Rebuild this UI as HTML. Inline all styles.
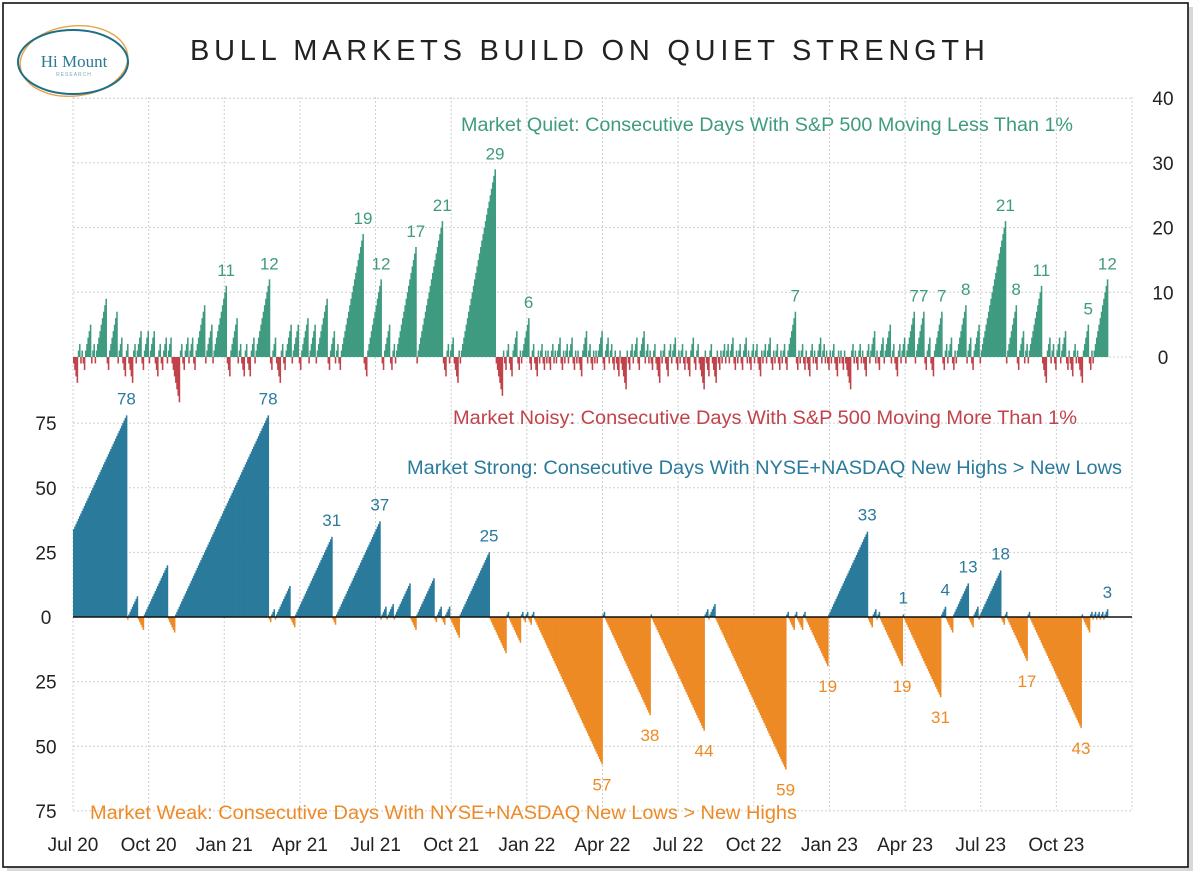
<!DOCTYPE html>
<html><head><meta charset="utf-8"><style>
html,body{margin:0;padding:0;background:#fff;}
svg{display:block;font-family:"Liberation Sans",sans-serif;}
</style></head><body>
<svg id="chart" width="1200" height="876" viewBox="0 0 1200 876" xmlns="http://www.w3.org/2000/svg">
<rect x="7" y="7" width="1186" height="864" fill="#d8d8d8"/>
<rect x="3" y="3" width="1185" height="864" fill="#fff" stroke="#111" stroke-width="1.6"/>
<g>
<ellipse cx="74" cy="61" rx="54" ry="35" fill="none" stroke="#e9a24a" stroke-width="1.4" transform="rotate(-6 74 61)"/>
<ellipse cx="73" cy="62" rx="55" ry="32" fill="none" stroke="#1f6f86" stroke-width="2"/>
<text x="74" y="67" text-anchor="middle" font-family="'Liberation Serif',serif" font-size="17" fill="#2a7a90">Hi Mount</text>
<text x="74" y="76" text-anchor="middle" font-size="5" letter-spacing="1" fill="#7aa9b8">RESEARCH</text>
</g>
<text x="190" y="60" font-size="29" letter-spacing="5.2" fill="#222" textLength="800" lengthAdjust="spacing">BULL MARKETS BUILD ON QUIET STRENGTH</text>
<g id="grid"></g>
<g id="bars"></g>
<g id="labels"></g>
<g id="axes"></g>
<text x="461" y="131" font-size="19" fill="#3f9b80" textLength="612" lengthAdjust="spacingAndGlyphs">Market Quiet: Consecutive Days With S&amp;P 500 Moving Less Than 1%</text>
<text x="453" y="424" font-size="19" fill="#c0434b" textLength="624" lengthAdjust="spacingAndGlyphs">Market Noisy: Consecutive Days With S&amp;P 500 Moving More Than 1%</text>
<text x="407" y="474" font-size="19" fill="#2a7a9c" textLength="715" lengthAdjust="spacingAndGlyphs">Market Strong: Consecutive Days With NYSE+NASDAQ New Highs &gt; New Lows</text>
<text x="90" y="819" font-size="19" fill="#ee8a25" textLength="707" lengthAdjust="spacingAndGlyphs">Market Weak: Consecutive Days With NYSE+NASDAQ New Lows &gt; New Highs</text>
</svg>
<script>
// ---- data ----
const quarterLabels = ["Jul 20","Oct 20","Jan 21","Apr 21","Jul 21","Oct 21","Jan 22","Apr 22","Jul 22","Oct 22","Jan 23","Apr 23","Jul 23","Oct 23"];
const quietTicks = [0,10,20,30,40];
const breadthTicks = [75,50,25,0,-25,-50,-75];
// quiet(+)/noisy(-) run lengths in trading days
const quietRuns = [-4,2,-1,1,-2,5,-1,2,-1,9,
 -2,7,-1,3,-3,2,-4,2,-1,4,-2,4,-1,4,-3,2,-2,3,-1,3,-7,2,-2,3,-1,3,-2,8,-1,5,-1,11,
 -3,6,-1,2,-3,2,-3,3,-1,12,
 -2,3,-4,2,-2,5,-1,5,-2,6,-1,5,-1,9,-2,4,-1,2,-2,19,
 -3,12,-2,5,-2,2,-1,17,-1,21,
 -3,2,-1,3,-4,1,-1,29,
 -6,1,-2,2,-3,4,-2,1,-1,6,
 -2,2,-3,1,-1,2,-2,1,-1,1,-2,2,-1,1,-1,3,-2,1,-1,2,-1,3,-2,1,-1,1,-3,4,-1,2,-2,1,-1,1,-1,4,-2,3,-1,2,-2,1,-3,1,-5,1,-2,2,-1,3,-2,4,-1,2,-1,1,-2,2,-4,1,-1,2,-3,2,-1,3,-2,1,-1,2,-2,1,-3,3,-2,2,-5,1,-3,2,-4,1,-2,1,-1,2,-1,
 2,-1,3,-2,1,-1,2,-2,3,-1,1,-2,2,-1,2,-3,1,-1,2,-1,3,-2,1,-1,2,-2,1,-1,2,-2,7,
 -2,1,-1,2,-2,1,-3,2,-1,1,-2,3,-1,2,-1,1,-2,1,-1,2,-3,1,-1,1,-2,1,-5,2,-1,1,-2,2,-1,1,-3,2,-1,4,-1,1,-2,3,-1,5,-1,2,-3,2,-1,3,-1,7,
 -1,7,-2,3,-3,7,-2,2,-1,3,-2,1,-1,8,-1,3,-2,5,-1,21,-1,8,-2,4,-1,2,-1,11,
 -4,3,-1,2,-2,3,-1,4,-2,1,-3,2,-1,1,-4,5,-2,1,-1,12];
const quietLabelValues = [11,12,19,12,17,21,29,6,7,7,7,7,8,21,8,11,5,12];
// breadth strong(+)/weak(-) run lengths
const breadthStart = 33;
const breadthRuns = [45,-1,8,-5,20,-6,78,-2,3,-1,12,-4,31,-3,37,-1,4,-1,5,-1,13,-5,15,-2,4,-3,4,-8,25,-14,2,-10,2,-2,2,-3,2,
 -57,2,-38,1,-44,3,-1,5,-59,2,-5,2,-5,2,-19,33,-4,3,-1,2,-19,1,-31,4,-6,13,-4,4,-1,18,-3,2,-17,2,-43,
 1,-6,2,-1,2,-1,2,-1,2,-1,3];
const strongLabelValues = [78,78,31,37,25,33,1,4,13,18,3];
const weakLabelValues = [57,38,44,59,19,19,31,17,43];

// ---- scales ----
const X0 = 73, X1 = 1132, NDAYS = 882, DW = (X1 - X0) / NDAYS;
const xDay = d => X0 + d * DW;
const yQ = v => 357 - v * 6.47;
const yB = v => 617 - v * 2.585;
const NS = "http://www.w3.org/2000/svg";
function mk(tag, attrs, parent){const e=document.createElementNS(NS,tag);for(const k in attrs)e.setAttribute(k,attrs[k]);parent.appendChild(e);return e;}
const grid=document.getElementById('grid'), bars=document.getElementById('bars'), labels=document.getElementById('labels'), axes=document.getElementById('axes');

function expand(runs, start){
  const out=[]; let first=true;
  runs.forEach(r=>{const s=Math.sign(r);let base=(first&&start)?start:0;first=false;
    for(let k=1;k<=Math.abs(r);k++) out.push(s*(base+k));});
  return out;
}
const quiet = expand(quietRuns, 0);
const breadth = expand(breadthRuns, breadthStart);

// grid
const qStep=(X1-X0)/14;
for(let q=0;q<=14;q++){
  const l=mk('line',{x1:X0+q*qStep,x2:X0+q*qStep,y1:97,y2:810,stroke:'#cfcfcf','stroke-width':1,'stroke-dasharray':'2,2'},grid);
  
  
}
quietTicks.forEach(v=>{
  const l=mk('line',{x1:X0,x2:X1,y1:yQ(v),y2:yQ(v),stroke:'#cfcfcf','stroke-width':1,'stroke-dasharray':'2,2'},grid);
  
  
  const t=mk('text',{x:1163,y:yQ(v)+7,'text-anchor':'middle','font-size':19,fill:'#222'},axes);
  t.textContent=v;
  
  
});
breadthTicks.forEach(v=>{
  if(v!==0){const l=mk('line',{x1:X0,x2:X1,y1:yB(v),y2:yB(v),stroke:'#cfcfcf','stroke-width':1,'stroke-dasharray':'2,2'},grid);
  
  }
  const t=mk('text',{x:46,y:yB(v)+7,'text-anchor':'middle','font-size':19,fill:'#222'},axes);
  t.textContent=Math.abs(v);
  
  
});
quarterLabels.forEach((s,i)=>{
  const t=mk('text',{x:X0+i*qStep,y:851,'text-anchor':'middle','font-size':19,fill:'#222'},axes);
  t.textContent=s;
  
  
});

// bars
function drawBars(vals, yf, posCol, negCol, name){
  vals.forEach((v,i)=>{
    const y0=yf(0), y1=yf(v);
    const r=mk('rect',{x:xDay(i),width:DW+0.35,y:Math.min(y0,y1),height:Math.abs(y1-y0),fill:v>0?posCol:negCol},bars);
    
    
  });
}
drawBars(quiet, yQ, '#3f9b80', '#c0434b', 'quiet-noisy-bar');
drawBars(breadth, yB, '#2a7a9c', '#ee8a25', 'breadth-bar');
const zl=mk('line',{x1:X0,x2:X1,y1:yB(0),y2:yB(0),stroke:'#111','stroke-width':1.5},axes);



// labels: greedy match of run peak values
function runPeaks(runs, start){
  const res=[]; let d=0, first=true;
  runs.forEach(r=>{const base=(first&&start)?start:0;first=false;d+=Math.abs(r);res.push({day:d-1,val:Math.sign(r)*(base+Math.abs(r))});});
  return res;
}
function placeLabels(peaks, wanted, sign, yf, off, col, name){
  let k=0;
  peaks.forEach(p=>{
    if(k<wanted.length && Math.sign(p.val)===sign && Math.abs(p.val)===wanted[k]){
      const t=mk('text',{x:xDay(p.day)+DW/2,y:yf(p.val)+off,'text-anchor':'middle','font-size':17,fill:col},labels);
      t.textContent=wanted[k];
      
      
      k++;
    }
  });
}
const qp=runPeaks(quietRuns,0), bp=runPeaks(breadthRuns,breadthStart);
placeLabels(qp, quietLabelValues, 1, yQ, -10, '#3f9b80', 'quiet-peak-label');
placeLabels(bp, strongLabelValues, 1, yB, -11, '#2a7a9c', 'strong-peak-label');
placeLabels(bp, weakLabelValues, -1, yB, 26, '#ee8a25', 'weak-trough-label');
</script>
</body></html>
